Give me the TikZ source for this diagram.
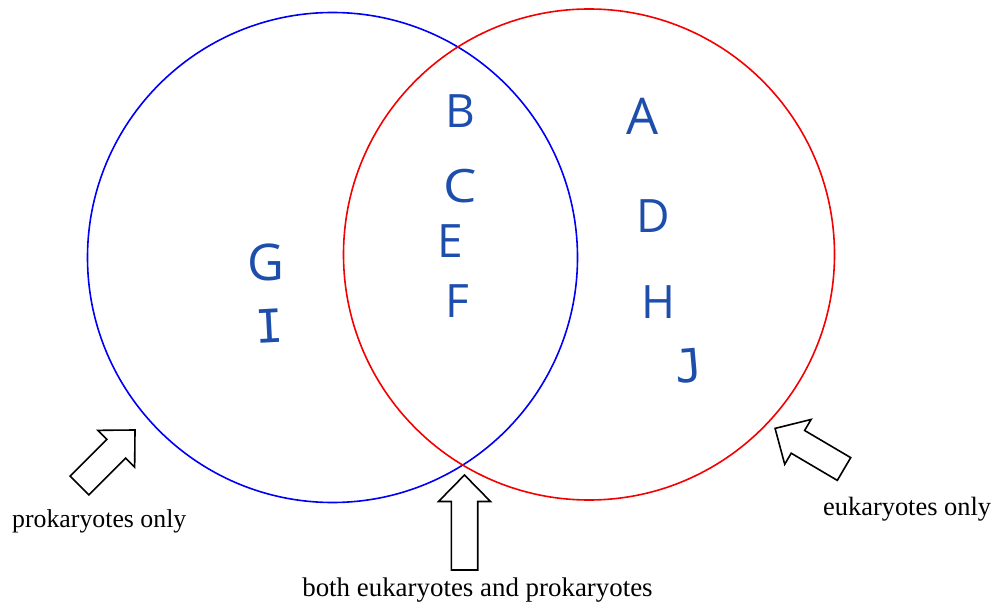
\documentclass[tikz,border=0pt]{standalone}
\usepackage{fontspec}
\setmainfont{Liberation Serif}
\newfontfamily\handfont{Open Sans}
\newfontfamily\handmono{DejaVu Sans Mono}
\definecolor{inkblue}{RGB}{30,78,172}
\definecolor{setblue}{RGB}{0,0,245}
\definecolor{setred}{RGB}{245,0,0}
\tikzset{
  setline/.style={line width=1.6pt},
  caption/.style={font=\fontsize{25.8}{28}\selectfont, inner sep=0pt, text=black},
  mark letter/.style={font=\handfont\fontsize{46}{46}\selectfont, text=inkblue, inner sep=0pt, anchor=base},
  mark mono/.style={font=\handmono\fontsize{46}{46}\selectfont, text=inkblue, inner sep=0pt, anchor=base},
  blockarrow/.style={draw=black, fill=white, line width=1.6pt, line join=miter},
  pics/hollow arrow/.style={code={
    % block arrow along +x, tail at the origin, tip at (#1,0)
    \draw[blockarrow] (0,-13.2) -- ({#1-26.5},-13.2) -- ({#1-26.5},-26) -- (#1,0)
      -- ({#1-26.5},26) -- ({#1-26.5},13.2) -- (0,13.2) -- cycle;
  }}
}
\begin{document}
\begin{tikzpicture}[x=1pt,y=-1pt]
\useasboundingbox (0,0) rectangle (993,612);

% the two sets
\node[setline, draw=setblue, circle, minimum size=490pt, inner sep=0pt] (prok) at (332.5,257.5) {};
\node[setline, draw=setred, circle, minimum size=491pt, inner sep=0pt] (euk) at (589,254.5) {};

% members of the sets
\node[mark letter] (B) at (460,128) {B};
\node[mark letter, xscale=1.15] (C) at (460,203) {C};
\node[mark letter] (E) at (450,258) {E};
\node[mark letter] (F) at (457,317) {F};
\node[mark letter, scale=1.1] (G) at (266,280) {G};
\node[mark mono, rotate=3] (I) at (270,343) {I};
\node[mark letter, scale=1.1] (A) at (643,135) {A};
\node[mark letter] (D) at (653,233) {D};
\node[mark letter] (H) at (658,318) {H};
\node[mark mono, rotate=5] (J) at (690,382) {J};

% pointer arrows
\pic[shift={(79.5,485.5)}, rotate=45] {hollow arrow=78.5};
\pic[shift={(464.5,570)}, rotate=90] {hollow arrow=95};
\pic[shift={(844,469)}, rotate=149.5] {hollow arrow=80};

% captions
\node[caption, anchor=base west] (lprok) at (12,527) {prokaryotes only};
\node[caption, anchor=base west, font=\fontsize{26.4}{28}\selectfont] (leuk) at (823,515) {eukaryotes only};
\node[caption, anchor=base, font=\fontsize{26.9}{28}\selectfont] (lboth) at (477.5,596) {both eukaryotes and prokaryotes};
\end{tikzpicture}
\end{document}
